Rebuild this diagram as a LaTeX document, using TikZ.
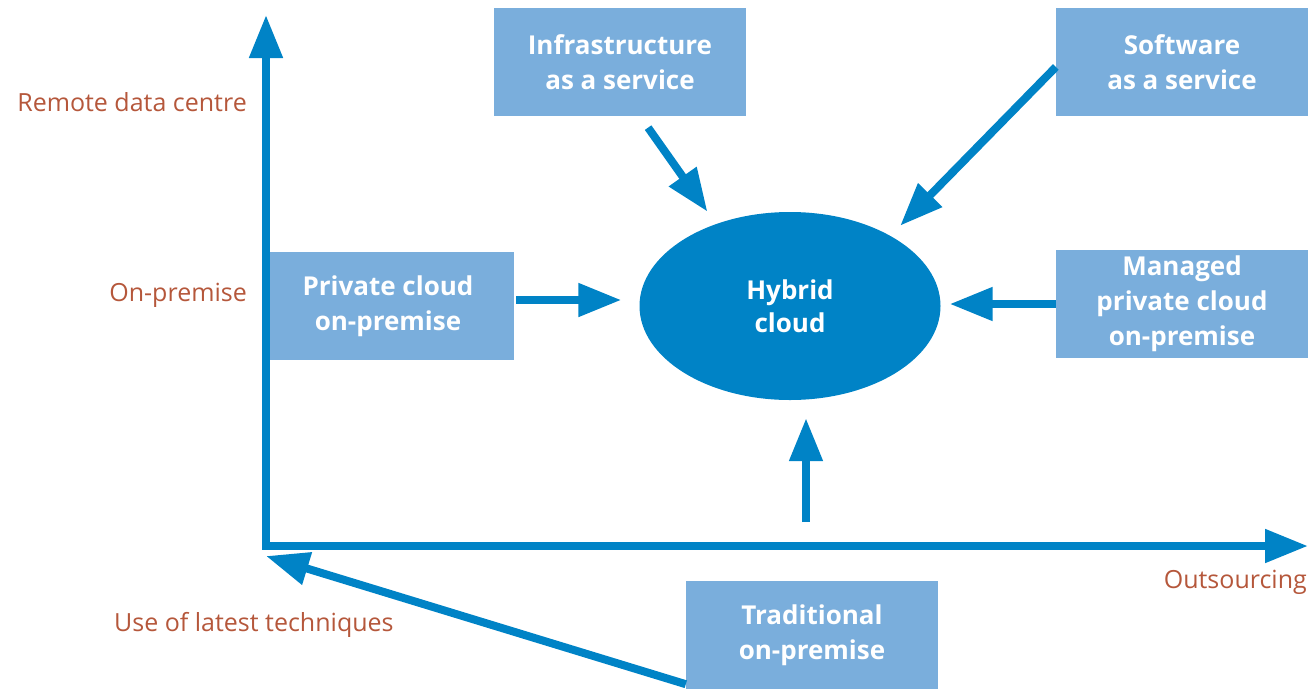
\documentclass[tikz,border=0pt]{standalone}
\usepackage{fontspec}
\setmainfont{Open Sans}
\usetikzlibrary{arrows.meta,shapes.geometric}
\definecolor{cloudblue}{HTML}{0083C6}
\definecolor{boxblue}{HTML}{7AAEDC}
\definecolor{axislabel}{HTML}{B5573B}

\begin{document}
\begin{tikzpicture}[x=1pt, y=-1pt,
	service/.style={fill=boxblue, text=white, font=\bfseries\fontsize{26}{35}\selectfont, align=center, minimum width=252pt, minimum height=108pt, inner sep=0pt},
	flow/.style={draw=cloudblue, line width=8pt, -{Triangle[length=43pt,width=32pt]}},
	axislab/.style={text=axislabel, font=\fontsize{25}{28}\selectfont, inner sep=0pt}]
	\useasboundingbox (0,0) rectangle (1312,689);
	
	% service boxes
	\node[service] (infra) at (620,62) {Infrastructure\\as a service};
	\node[service] (saas) at (1182,62) {Software\\as a service};
	\node[service] (priv) at (388,306) {Private cloud\\on-premise};
	\node[service] (mgd) at (1182,304) {Managed\\private cloud\\on-premise};
	\node[service] (trad) at (812,635) {Traditional\\on-premise};
	\node[ellipse, fill=cloudblue, text=white, font=\bfseries\fontsize{26}{33}\selectfont, align=center, minimum width=301pt, minimum height=188pt, inner sep=0pt] (hybrid) at (790,306) {Hybrid\\cloud};
	
	% axes
	\coordinate (origin) at (266,546);
	\coordinate (ytop) at (266,15);
	\coordinate (xend) at (1308,546);
	\coordinate (lowtip) at (266,556);
	\coordinate (upstart) at (806,522);
	\draw[flow, line join=miter, {Triangle[length=43pt,width=32pt]}-{Triangle[length=43pt,width=32pt]}] (ytop) -- (origin) -- (xend);
	
	% arrows into the hybrid cloud
	\draw[flow, shorten <=14pt, shorten >=15pt] ([xshift=20pt]infra.south) -- (hybrid.132);
	\draw[flow, shorten >=14pt] ([yshift=-5pt]saas.west) -- (hybrid.35);
	\draw[flow, shorten <=2pt, shorten >=18pt] ([yshift=6pt]priv.east) -- ([yshift=6pt]hybrid.west);
	\draw[flow, shorten >=9pt] (mgd.west) -- (mgd.west -| hybrid.east);
	\draw[flow, shorten >=18pt] (upstart) -- (upstart |- hybrid.south);
	\draw[flow] ([yshift=5pt]trad.south west) -- (lowtip);
	
	% axis labels
	\node[axislab, anchor=east] (remote) at (247,102) {Remote data centre};
	\node[axislab, anchor=east] (onprem) at (247,295) {On-premise};
	\node[axislab, anchor=west] (latest) at (114,625) {Use of latest techniques};
	\node[axislab, anchor=east] (outsrc) at (1307,582) {Outsourcing};
\end{tikzpicture}
\end{document}
